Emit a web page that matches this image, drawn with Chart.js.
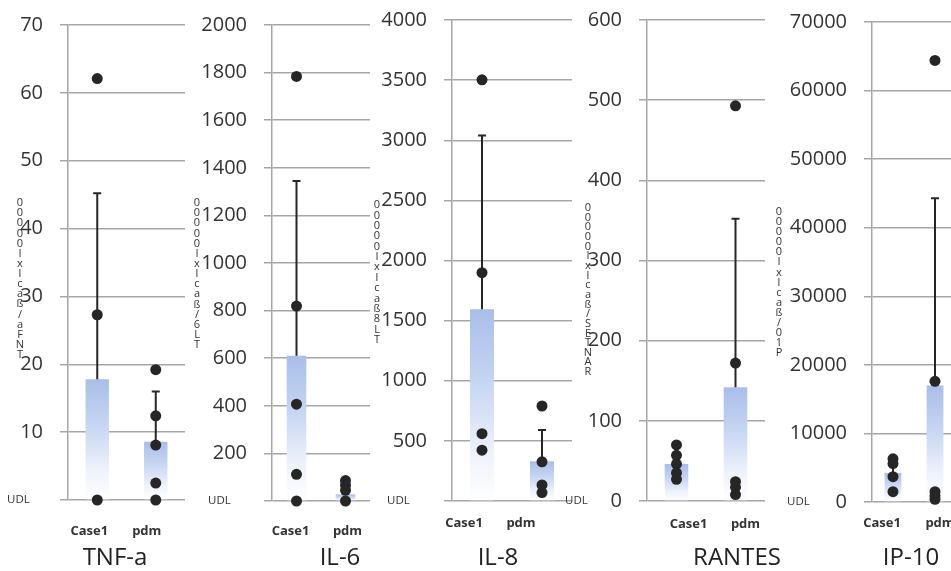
<!DOCTYPE html>
<html>
<head>
<meta charset="utf-8">
<script src="https://cdn.jsdelivr.net/npm/chart.js@4/dist/chart.umd.min.js"></script>
<style>
  html, body { margin: 0; padding: 0; background: #fff; }
  #wrap { position: relative; width: 951px; height: 571px; overflow: hidden; }
  #wrap canvas { position: absolute; left: 0; top: 0; }
</style>
</head>
<body>
<div id="wrap">
  <canvas id="c0" width="980" height="571"></canvas>
  <canvas id="c1" width="980" height="571"></canvas>
  <canvas id="c2" width="980" height="571"></canvas>
  <canvas id="c3" width="980" height="571"></canvas>
  <canvas id="c4" width="980" height="571"></canvas>
</div>
<script>
// groups and panel names
const groups = ['Case1', 'pdm'];
const titles = ['TNF-a', 'IL-6', 'IL-8', 'RANTES', 'IP-10'];
// vertical axis titles as they appear (stacked characters)
const axisTitles = ['00000Ixlcaß/aFNT', '00000Ixlcaß/6LT', '00000Ixlcaß8LT', '00000Ixlcaß/SETNAR', '00000Ixlcaß/01P'];
const yMax = [70, 2000, 4000, 600, 70000];
const yStep = [10, 200, 500, 100, 10000];
const showZero = [false, false, false, true, true];

// TNF-a
const tnfMean = [17.8, 8.6];
const tnfErrTop = [45.2, 16.0];
const tnfCase1 = [62.1, 27.3, 0];
const tnfPdm = [19.2, 12.4, 8.1, 2.5, 0];
// IL-6
const il6Mean = [610, 28];
const il6ErrTop = [1345, 60];
const il6Case1 = [1784, 819, 407, 112, 0];
const il6Pdm = [86, 66, 45, 0];
// IL-8
const il8Mean = [1595, 330];
const il8ErrTop = [3040, 590];
const il8Case1 = [3503, 1899, 560, 423];
const il8Pdm = [790, 326, 134, 70];
// RANTES
const rantesMean = [46, 142];
const rantesErrTop = [68, 352];
const rantesCase1 = [70, 57, 46, 35, 27];
const rantesPdm = [493, 172, 24, 17, 8];
// IP-10
const ip10Mean = [4250, 17000];
const ip10ErrTop = [6200, 44300];
const ip10Case1 = [6300, 5600, 3700, 1500];
const ip10Pdm = [64400, 17600, 1500, 900, 400];

const means = [tnfMean, il6Mean, il8Mean, rantesMean, ip10Mean];
const errTops = [tnfErrTop, il6ErrTop, il8ErrTop, rantesErrTop, ip10ErrTop];
const case1Pts = [tnfCase1, il6Case1, il8Case1, rantesCase1, ip10Case1];
const pdmPts = [tnfPdm, il6Pdm, il8Pdm, rantesPdm, ip10Pdm];

// where each panel sits on the page; labelShift moves the Case1 / pdm names off the bar centres
const frames = [
  { axisX: 68,  right: 185, top: 25, bottom: 500, udlX: 7,   stackX: 20,  stackY0: 203, stackY1: 355, titleX: 115, labelY: 531, labelShift: [-8, -9] },
  { axisX: 272, right: 370, top: 25, bottom: 501, udlX: 208, stackX: 197, stackY0: 203, stackY1: 345, titleX: 340, labelY: 531, labelShift: [-6, 2] },
  { axisX: 452, right: 572, top: 20, bottom: 501, udlX: 387, stackX: 377, stackY0: 205, stackY1: 340, titleX: 498, labelY: 523, labelShift: [-18, -21] },
  { axisX: 647, right: 765, top: 20, bottom: 501, udlX: 565, stackX: 588, stackY0: 208, stackY1: 372, titleX: 737, labelY: 524, labelShift: [12, 10] },
  { axisX: 872, right: 956, top: 22, bottom: 502, udlX: 787, stackX: 779, stackY0: 212, stackY1: 353, titleX: 911, labelY: 523, labelShift: [-11, 5] }
];

const FONT = "'Open Sans', 'Liberation Sans', sans-serif";
const GRID = 'rgba(150,150,150,0.85)';
const CANVAS_W = 980, CANVAS_H = 571;

const barFill = (c) => {
  const ch = c.chart;
  if (!ch.chartArea || c.type !== 'data') return '#b3c6ec';
  const ys = ch.scales.y;
  const top = ys.getPixelForValue(c.raw);
  const bot = ys.getPixelForValue(0);
  const g = ch.ctx.createLinearGradient(0, top, 0, bot);
  g.addColorStop(0, '#a9bee9');
  g.addColorStop(0.35, '#c3d3f1');
  g.addColorStop(0.75, '#eef2fb');
  g.addColorStop(1, '#ffffff');
  return g;
};

// error bars: upward only, from bar top
const errorBars = {
  id: 'errorBars',
  afterDatasetDraw(chart, args) {
    if (args.index !== 0) return;
    const p = chart.$panel;
    const xs = chart.scales.x, ys = chart.scales.y, ctx = chart.ctx;
    ctx.save();
    ctx.strokeStyle = '#262626';
    ctx.lineWidth = 2;
    for (let k = 0; k < groups.length; k++) {
      const x = xs.getPixelForValue(k);
      const y0 = ys.getPixelForValue(means[p][k]);
      const y1 = ys.getPixelForValue(errTops[p][k]);
      ctx.beginPath();
      ctx.moveTo(x, y0); ctx.lineTo(x, y1);
      ctx.moveTo(x - 4, y1); ctx.lineTo(x + 4, y1);
      ctx.stroke();
    }
    ctx.restore();
  }
};

// UDL marker, group names, stacked axis title, bottom title
const extraText = {
  id: 'extraText',
  afterDraw(chart) {
    const p = chart.$panel, f = frames[p], ctx = chart.ctx;
    const xs = chart.scales.x, ys = chart.scales.y;
    ctx.save();
    ctx.fillStyle = '#333333';
    ctx.font = '11.5px ' + FONT;
    ctx.textAlign = 'left';
    ctx.textBaseline = 'middle';
    ctx.fillText('UDL', f.udlX, ys.getPixelForValue(0));

    ctx.textAlign = 'center';
    ctx.font = 'bold 13px ' + FONT;
    groups.forEach((g, k) => ctx.fillText(g, xs.getPixelForValue(k) + f.labelShift[k], f.labelY));

    const chars = Array.from(axisTitles[p]);
    const step = (f.stackY1 - f.stackY0) / (chars.length - 1);
    ctx.font = '11px ' + FONT;
    chars.forEach((ch, n) => ctx.fillText(ch, f.stackX, f.stackY0 + n * step));

    ctx.fillStyle = '#222222';
    ctx.font = '24px ' + FONT;
    ctx.fillText(titles[p], f.titleX, 558);
    ctx.restore();
  }
};

for (let p = 0; p < 5; p++) {
  const f = frames[p];
  const dots = case1Pts[p].map(v => ({ x: groups[0], y: v }))
    .concat(pdmPts[p].map(v => ({ x: groups[1], y: v })));
  const yAxisW = Math.min(f.axisX, 110);
  const xAxisH = CANVAS_H - f.bottom;
  new Chart(document.getElementById('c' + p), {
    type: 'bar',
    data: {
      labels: groups,
      datasets: [{
        type: 'bar',
        data: means[p],
        backgroundColor: barFill,
        borderWidth: 0,
        categoryPercentage: 1,
        barPercentage: 0.4,
        order: 2
      }, {
        type: 'line',
        data: dots,
        showLine: false,
        pointRadius: 5.5,
        pointBackgroundColor: '#262626',
        pointBorderColor: '#262626',
        pointBorderWidth: 0,
        clip: false,
        order: 1
      }]
    },
    options: {
      responsive: false,
      animation: false,
      devicePixelRatio: 1,
      layout: { padding: { left: f.axisX - yAxisW, right: CANVAS_W - f.right, top: f.top, bottom: 0 } },
      plugins: { legend: { display: false }, tooltip: { enabled: false } },
      scales: {
        x: {
          grid: { display: false, drawTicks: false },
          border: { display: false },
          afterFit: (s) => { s.height = xAxisH; s.paddingLeft = 0; s.paddingRight = 0; },
          ticks: { display: false }
        },
        y: {
          min: 0,
          max: yMax[p],
          afterFit: (s) => { s.width = yAxisW; s.paddingTop = 0; s.paddingBottom = 0; },
          grid: { color: GRID, lineWidth: 1.5, tickLength: 8, tickColor: GRID },
          border: { display: true, color: GRID, width: 1.5 },
          ticks: {
            stepSize: yStep[p],
            color: '#333',
            padding: 17,
            font: { family: FONT, size: 20 },
            callback: (v) => (v === 0 && !showZero[p]) ? '' : String(v)
          }
        }
      }
    },
    plugins: [{ id: 'tag', beforeInit(c) { c.$panel = p; } }, errorBars, extraText]
  });
}
</script>
</body>
</html>
